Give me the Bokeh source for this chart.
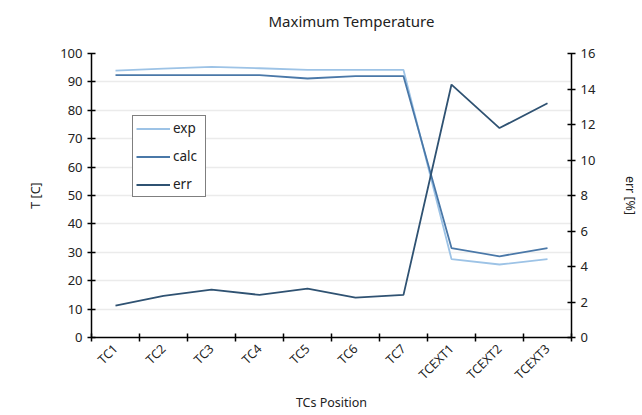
from bokeh.plotting import figure
from bokeh.models import (LinearAxis, Range1d, FixedTicker, Legend, LegendItem,
                          ColumnDataSource, Title)
from bokeh.embed import file_html
from bokeh.resources import INLINE
import math

categories = ["TC1", "TC2", "TC3", "TC4", "TC5", "TC6", "TC7", "TCEXT1", "TCEXT2", "TCEXT3"]
exp_vals = [94.0, 94.7, 95.3, 94.8, 94.2, 94.2, 94.2, 27.6, 25.7, 27.6]
calc_vals = [92.4, 92.4, 92.4, 92.4, 91.2, 92.0, 92.0, 31.5, 28.6, 31.5]
err_vals = [1.8, 2.35, 2.7, 2.4, 2.75, 2.25, 2.4, 14.25, 11.8, 13.2]
left_ticks = list(range(0, 101, 10))
right_ticks = list(range(0, 17, 2))
title_text = "Maximum Temperature"

FONT = "Noto Sans"
xpos = [i + 0.5 for i in range(len(categories))]
src = ColumnDataSource(dict(x=xpos, exp=exp_vals, calc=calc_vals, err=err_vals))

p = figure(width=642, height=415, output_backend="svg", toolbar_location=None,
           x_range=Range1d(0, len(categories)), y_range=Range1d(0, 100),
           x_axis_label="TCs Position", y_axis_label="T [C]")
p.min_border_left = 91
p.min_border_right = 70
p.min_border_top = 53
p.min_border_bottom = 78
p.outline_line_color = None
p.background_fill_color = "white"
p.border_fill_color = "white"

# spacer between frame and title (nearest the frame), then the title outside it
spacer = Title(text=" ", text_font=FONT, text_font_size="11px", standoff=0)
p.add_layout(spacer, "above")
main_title = Title(text=title_text, align="left", offset=177, standoff=12,
                   text_font=FONT, text_font_size="15px", text_font_style="normal",
                   text_color="#222222")
p.add_layout(main_title, "above")

p.extra_y_ranges = {"err": Range1d(0, 16)}
raxis = LinearAxis(y_range_name="err", axis_label="err [%]",
                   ticker=FixedTicker(ticks=right_ticks))
p.add_layout(raxis, "right")

p.yaxis[0].ticker = FixedTicker(ticks=left_ticks)
p.xaxis[0].ticker = FixedTicker(ticks=xpos, minor_ticks=list(range(len(categories) + 1)))
p.xaxis[0].major_label_overrides = {x: c for x, c in zip(xpos, categories)}
p.xaxis[0].major_label_orientation = math.pi / 4
p.xaxis[0].major_label_standoff = 5
p.xaxis[0].major_tick_in = 0
p.xaxis[0].major_tick_out = 0
p.xaxis[0].minor_tick_in = 4
p.xaxis[0].minor_tick_out = 4
p.xaxis[0].minor_tick_line_color = "black"
p.xaxis[0].minor_tick_line_width = 1.5

for ax in [p.xaxis[0], p.yaxis[0], raxis]:
    ax.axis_line_color = "black"
    ax.axis_line_width = 1.5
    ax.major_tick_line_color = "black"
    ax.major_tick_line_width = 1.5
    ax.major_label_text_font = FONT
    ax.major_label_text_font_size = "13px"
    ax.major_label_text_color = "#222222"
    ax.axis_label_text_font = FONT
    ax.axis_label_text_font_size = "12.5px"
    ax.axis_label_text_font_style = "normal"
    ax.axis_label_text_color = "#222222"
p.xaxis[0].major_label_text_font_size = "12.5px"
for ax in [p.yaxis[0], raxis]:
    ax.major_tick_in = 4
    ax.major_tick_out = 4
    ax.minor_tick_line_color = None
p.yaxis[0].axis_label_standoff = 13
raxis.axis_label_standoff = 24
p.xaxis[0].axis_label_standoff = 2

p.xgrid.grid_line_color = None
p.ygrid.grid_line_color = "#ebebeb"
p.ygrid.grid_line_width = 1.5
p.ygrid.ticker = FixedTicker(ticks=left_ticks)

r_exp = p.line("x", "exp", source=src, line_color="#9dc3e6", line_width=1.8)
r_calc = p.line("x", "calc", source=src, line_color="#4a78a8", line_width=1.8)
r_err = p.line("x", "err", source=src, line_color="#2f5272", line_width=1.8,
               y_range_name="err")

legend = Legend(items=[LegendItem(label="exp", renderers=[r_exp]),
                       LegendItem(label="calc", renderers=[r_calc]),
                       LegendItem(label="err", renderers=[r_err])],
                location=(41, 140))
legend.border_line_color = "black"
legend.border_line_width = 1.5
legend.background_fill_alpha = 1
legend.label_text_font = FONT
legend.label_text_font_size = "13.5px"
legend.label_text_color = "#222222"
legend.glyph_width = 34
legend.glyph_height = 17
legend.label_height = 17
legend.label_width = 29
legend.spacing = 10
legend.padding = 3
legend.margin = 0
legend.label_standoff = 3
p.add_layout(legend, "center")

open("out.html", "w").write(file_html(p, INLINE))
